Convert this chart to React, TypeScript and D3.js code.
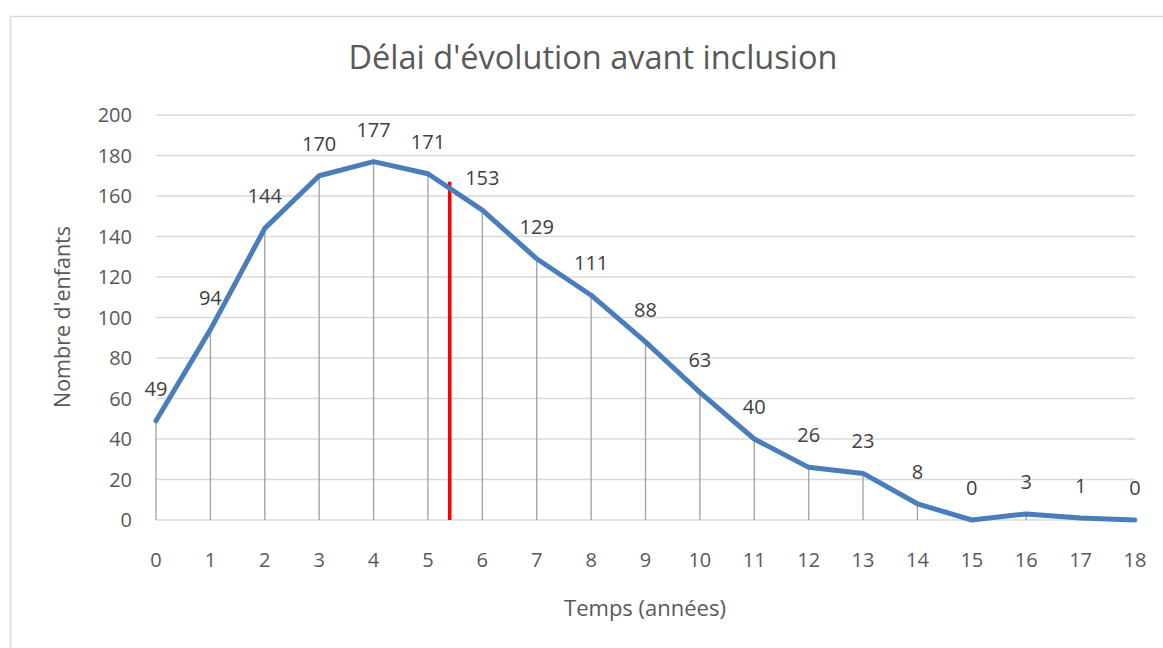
import React from "react";
import * as d3 from "d3";

const years = [0, 1, 2, 3, 4, 5, 6, 7, 8, 9, 10, 11, 12, 13, 14, 15, 16, 17, 18];
const counts = [49, 94, 144, 170, 177, 171, 153, 129, 111, 88, 63, 40, 26, 23, 8, 0, 3, 1, 0];
const yTicks = [0, 20, 40, 60, 80, 100, 120, 140, 160, 180, 200];
const markerX = 5.4;
const markerTop = 167;

const W = 1163;
const H = 648;
const font = "'Open Sans', 'Noto Sans', sans-serif";

export default function App() {
  const x = d3.scaleLinear().domain([0, 18]).range([156, 1135]);
  const y = d3.scaleLinear().domain([0, 200]).range([520, 115]);
  const line = d3
    .line<number>()
    .x((_, i) => x(years[i]))
    .y((d) => y(d));

  return (
    <svg
      width={W}
      height={H}
      style={{ position: "absolute", left: 0, top: 0, background: "#fff" }}
      fontFamily={font}
    >
      <rect x={0} y={0} width={W} height={H} fill="#fff" />
      <rect x={10.5} y={16.5} width={W + 10} height={H + 10} fill="none" stroke="#d9d9d9" strokeWidth={1.5} />
      <text x={593} y={69} textAnchor="middle" fontSize={32.5} fill="#595959">
        Délai d'évolution avant inclusion
      </text>
      {yTicks.map((t) => (
        <g key={t}>
          <line x1={x(0)} x2={x(18)} y1={y(t)} y2={y(t)} stroke="#d9d9d9" strokeWidth={1.3} />
          <text x={132} y={y(t) + 7} textAnchor="end" fontSize={20} fill="#595959">
            {t}
          </text>
        </g>
      ))}
      {years.map((yr, i) => (
        <g key={yr}>
          <line x1={x(yr)} x2={x(yr)} y1={y(0)} y2={y(counts[i])} stroke="#a6a6a6" strokeWidth={1.4} />
          <text x={x(yr)} y={567} textAnchor="middle" fontSize={20} fill="#595959">
            {yr}
          </text>
        </g>
      ))}
      <line x1={x(markerX)} x2={x(markerX)} y1={y(0)} y2={y(markerTop)} stroke="#ff0000" strokeWidth={3.5} />
      <path d={line(counts) || ""} fill="none" stroke="#4a7ebb" strokeWidth={5} strokeLinejoin="round" strokeLinecap="round" />
      {years.map((yr, i) => (
        <text key={"l" + yr} x={x(yr)} y={y(counts[i]) - 25} textAnchor="middle" fontSize={20} fill="#404040">
          {counts[i]}
        </text>
      ))}
      <text
        transform={`translate(70,317) rotate(-90)`}
        textAnchor="middle"
        fontSize={21.5}
        fill="#595959"
      >
        Nombre d'enfants
      </text>
      <text x={645} y={616} textAnchor="middle" fontSize={22} fill="#595959">
        Temps (années)
      </text>
    </svg>
  );
}
